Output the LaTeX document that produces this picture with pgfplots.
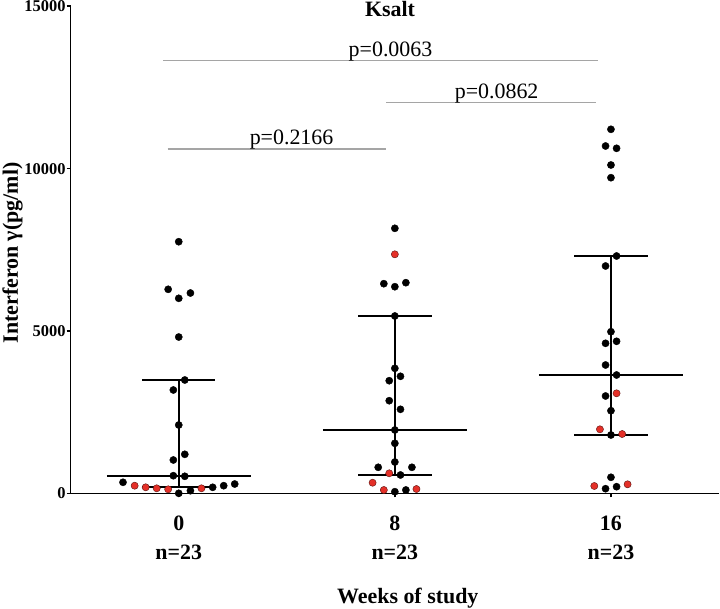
\documentclass[border=0pt]{standalone}
\usepackage{pgfplots}
\pgfplotsset{compat=1.18}
\usepackage{fontspec}
\setmainfont{Liberation Serif}
\definecolor{dotred}{RGB}{228,48,40}
\definecolor{pgray}{RGB}{165,165,165}
\begin{document}
\begin{tikzpicture}
\begin{axis}[
  at={(0,0)}, anchor=south west,
  scale only axis, width=648.3bp, height=487bp,
  xmin=-0.5, xmax=2.5, ymin=0, ymax=15000,
  axis x line=bottom, axis y line=left,
  axis line style={-, line width=1.6bp},
  xtick={0,1,2},
  xticklabels={{0\\n=23},{8\\n=23},{16\\n=23}},
  ytick={0,5000,10000,15000},
  scaled y ticks=false,
  /pgf/number format/assume math mode=true,
  /pgf/number format/1000 sep={},
  yticklabel style={font=\bfseries\fontsize{16.5}{18}\selectfont, inner sep=1bp},
  xticklabel style={align=center, yshift=-15bp, font=\bfseries\fontsize{22}{29}\selectfont},
  tick align=outside, major tick length=4bp,
  tick style={line width=1.6bp, black},
  clip=false,
]
% median and interquartile range
\addplot[black, line width=1.8bp] coordinates {(-0.333,524) (0.333,524)};
\addplot[black, line width=1.8bp] coordinates {(-0.17,185) (0.17,185)};
\addplot[black, line width=1.8bp] coordinates {(-0.17,3490) (0.17,3490)};
\addplot[black, line width=1.8bp] coordinates {(0,185) (0,3490)};
\addplot[black, line width=1.8bp] coordinates {(0.667,1950) (1.333,1950)};
\addplot[black, line width=1.8bp] coordinates {(0.83,564) (1.17,564)};
\addplot[black, line width=1.8bp] coordinates {(0.83,5461) (1.17,5461)};
\addplot[black, line width=1.8bp] coordinates {(1,564) (1,5461)};
\addplot[black, line width=1.8bp] coordinates {(1.667,3644) (2.333,3644)};
\addplot[black, line width=1.8bp] coordinates {(1.83,1796) (2.17,1796)};
\addplot[black, line width=1.8bp] coordinates {(1.83,7309) (2.17,7309)};
\addplot[black, line width=1.8bp] coordinates {(2,1796) (2,7309)};
% black dots
\addplot[only marks, mark=*, mark size=3.6bp, mark options={fill=black, draw=black}] coordinates {
(0,7749) (-0.049,6283) (0.054,6169) (0,6006) (0,4814) (0.028,3490) (-0.025,3182)
(0,2104) (0.028,1201) (-0.025,1026) (-0.025,542) (0.028,524) (-0.258,339)
(0.157,185) (0.208,234) (0.259,286) (0,0) (0.054,80)
(1,8162) (0.949,6456) (1.051,6487) (1,6363) (1,5461) (1,3850) (0.974,3468) (1.026,3604)
(0.974,2852) (1.026,2587) (1,1950) (1,1540) (1,964) (0.923,801) (1.079,801)
(1.026,564) (1,49) (1.051,102)
(2,11211) (1.975,10697) (2.026,10626) (2,10112) (2,9721) (2.026,7309) (1.975,7001)
(2,4977) (1.975,4620) (2.026,4682) (1.975,3952) (2.026,3644) (1.975,2997)
(2,2544) (2,1796) (2,493) (1.975,142) (2.026,203)
};
% red dots
\addplot[only marks, mark=*, mark size=3.6bp, mark options={fill=dotred, draw=black!60!dotred, line width=0.4bp}] coordinates {
(-0.204,234) (-0.153,185) (-0.102,154) (-0.049,123) (0.105,154)
(1,7361) (0.974,616) (0.897,326) (0.949,102) (1.100,132)
(2.026,3080) (1.949,1971) (2.052,1826) (1.923,225) (2.077,277)
};
% comparison brackets
\addplot[pgray, line width=1.4bp] coordinates {(-0.071,13324) (1.938,13324)};
\addplot[pgray, line width=1.4bp] coordinates {(0.961,12043) (1.929,12043)};
\addplot[pgray, line width=1.4bp] coordinates {(-0.052,10605) (0.961,10605)};
\node[anchor=base, yshift=4.5bp, font=\fontsize{22}{26}\selectfont] at (axis cs:0.980,13324) {p=0.0063};
\node[anchor=base, yshift=3.5bp, font=\fontsize{22}{26}\selectfont] at (axis cs:1.471,12043) {p=0.0862};
\node[anchor=base, yshift=4bp, font=\fontsize{22}{26}\selectfont] at (axis cs:0.522,10605) {p=0.2166};
% title and axis labels
\node[anchor=base, yshift=-10.4bp, font=\bfseries\fontsize{22}{26}\selectfont] at (rel axis cs:0.4925,1) {Ksalt};
\node[anchor=base, font=\bfseries\fontsize{22}{26}\selectfont] at (rel axis cs:0.52,-0.2273) {Weeks of study};
\node[anchor=base, rotate=90, font=\bfseries\fontsize{22}{26}\selectfont] at (rel axis cs:-0.0816,0.4934) {Interferon γ(pg/ml)};
\end{axis}
\pgfresetboundingbox
\path[use as bounding box] (-70.7bp,-115.7bp) rectangle (649.3bp,493.3bp);
\end{tikzpicture}
\end{document}
